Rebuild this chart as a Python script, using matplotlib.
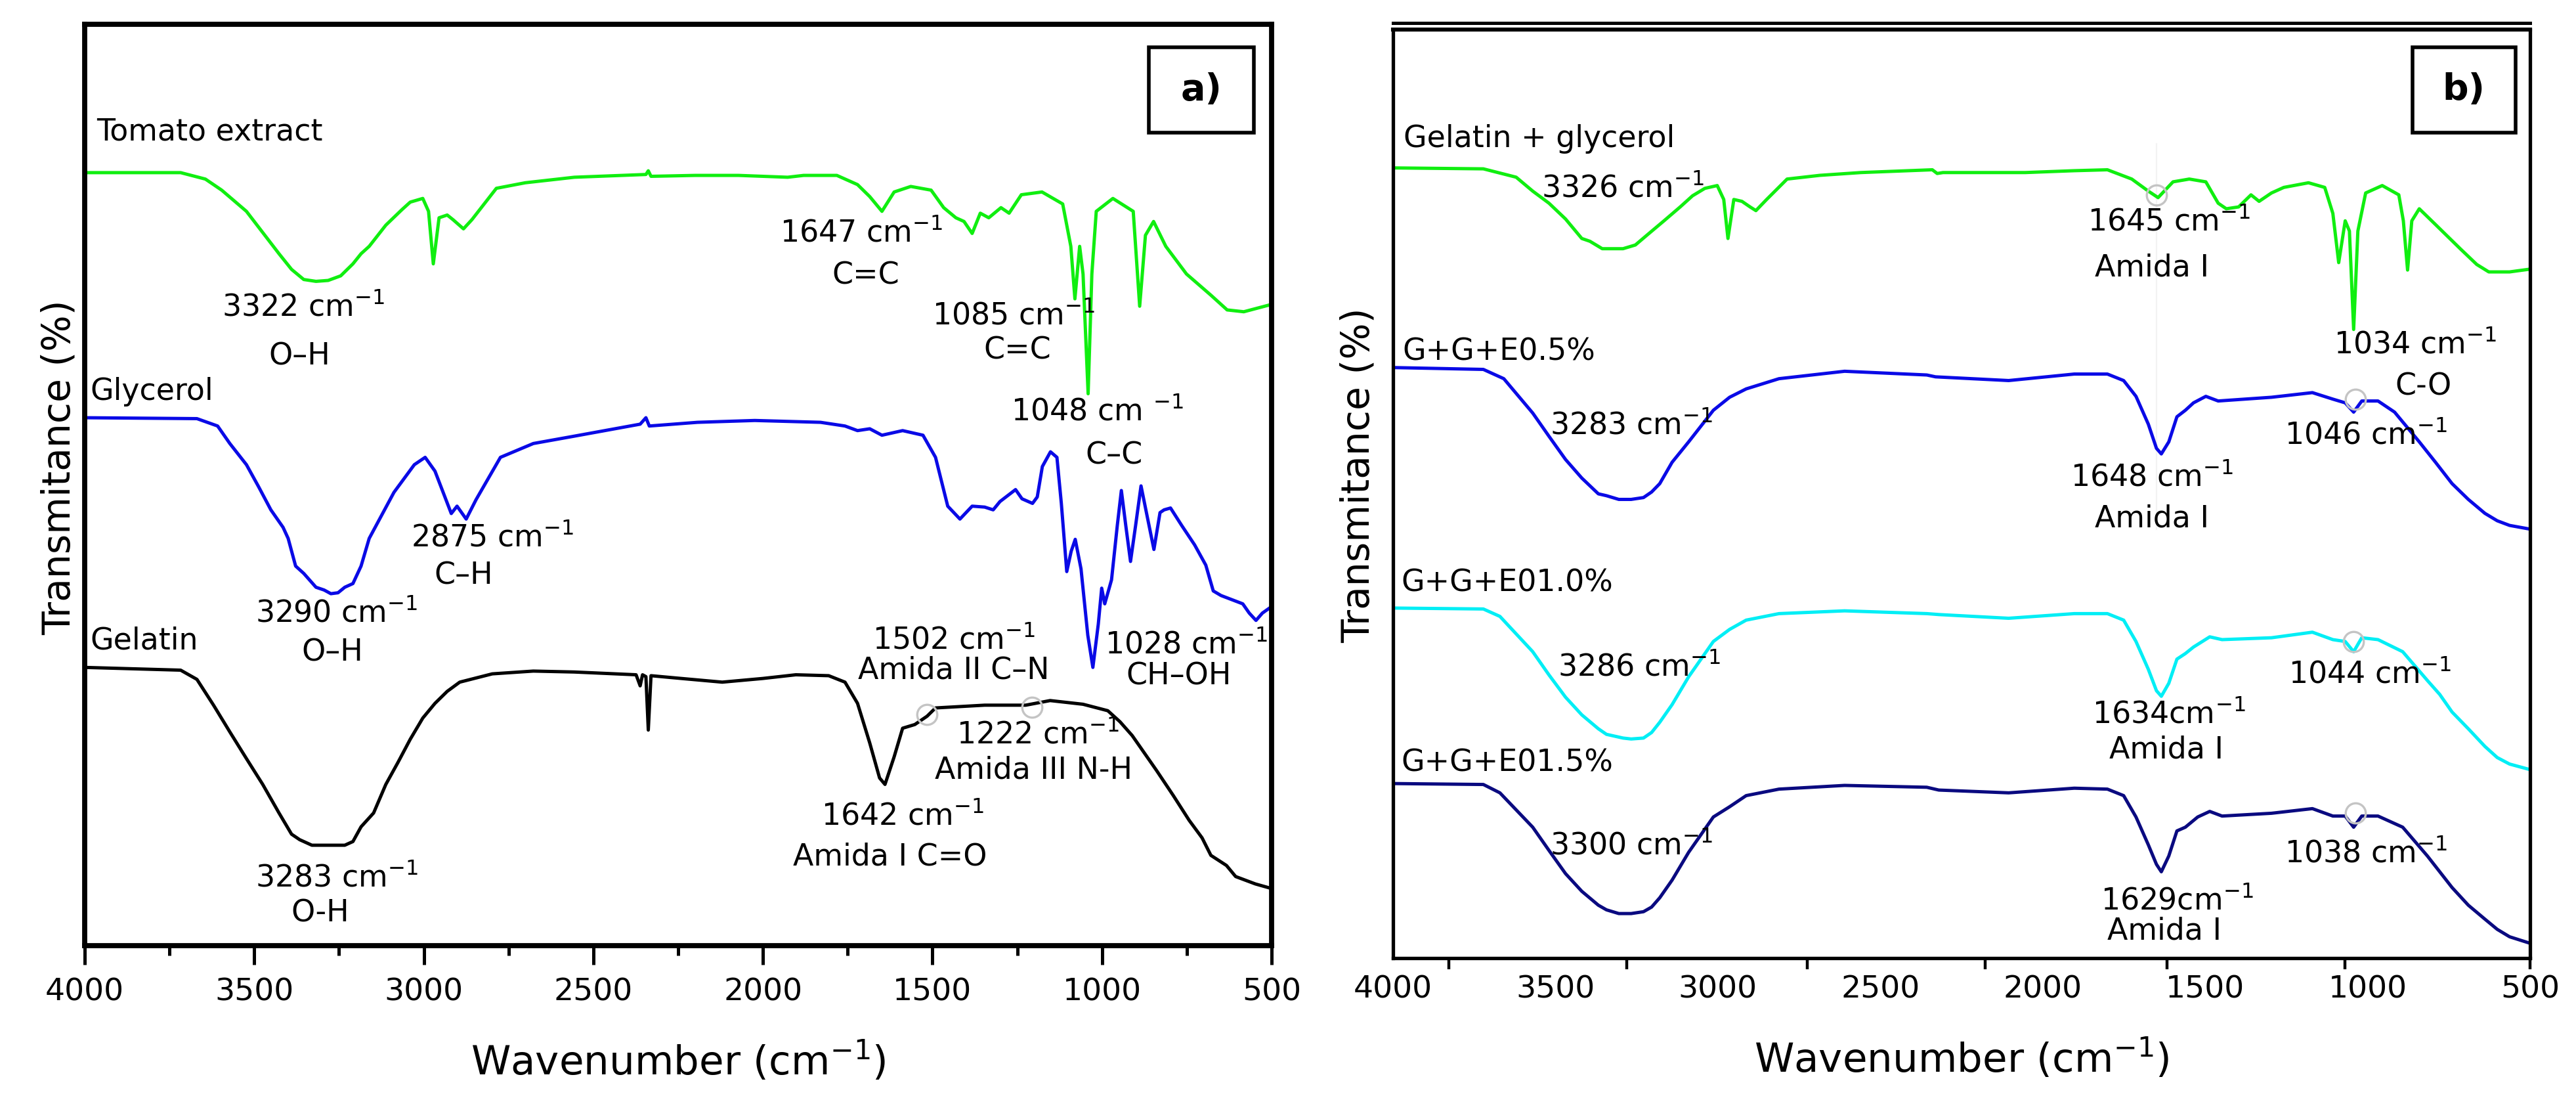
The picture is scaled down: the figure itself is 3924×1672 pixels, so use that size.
import numpy as np
import matplotlib as mpl
mpl.use('Agg')
import matplotlib.pyplot as plt
import matplotlib.ticker as ticker
from matplotlib.patches import Rectangle

plt.rcParams['font.family'] = ['DejaVu Sans']
plt.rcParams['mathtext.default'] = 'regular'

# ---------------- data (arbitrary offset scale 0-100) -------------
# panel a
wn_tomato = [4000, 3717, 3644, 3596, 3523, 3475, 3427, 3390, 3354, 3318, 3282, 3245, 3209, 3185,
             3161, 3112, 3064, 3040, 3003, 2986, 2972, 2955, 2931, 2914, 2883, 2858, 2786, 2701,
             2556, 2345, 2338, 2330, 2200, 2072, 1927, 1880, 1782, 1721, 1685, 1649, 1613, 1564,
             1504, 1467, 1431, 1407, 1383, 1359, 1334, 1298, 1274, 1238, 1177, 1116, 1092, 1080,
             1066, 1056, 1041, 1030, 1017, 968, 908, 889, 872, 848, 812, 751, 679, 631, 582, 500]
tr_tomato = [83.9, 83.9, 83.2, 82.0, 79.7, 77.4, 75.1, 73.4, 72.3, 72.1, 72.2, 72.7, 74.0, 75.1,
             75.9, 78.2, 79.9, 80.7, 81.1, 79.7, 74.0, 79.0, 79.3, 78.8, 77.8, 78.8, 82.2, 82.8,
             83.4, 83.7, 84.1, 83.5, 83.6, 83.6, 83.4, 83.6, 83.6, 82.6, 81.3, 79.7, 81.8, 82.4,
             82.0, 80.1, 79.0, 78.6, 77.3, 79.5, 79.0, 80.1, 79.5, 81.5, 81.8, 80.5, 75.9, 70.2,
             75.9, 72.9, 59.9, 72.9, 79.7, 81.1, 79.7, 69.4, 77.1, 78.6, 75.9, 72.9, 70.6, 69.0,
             68.8, 69.6]

wn_glycerol = [4000, 3669, 3608, 3572, 3523, 3487, 3451, 3415, 3400, 3378, 3354, 3318, 3294, 3274,
               3253, 3233, 3209, 3185, 3161, 3088, 3028, 2996, 2967, 2919, 2902, 2875, 2846, 2774,
               2677, 2556, 2362, 2345, 2335, 2193, 2024, 1830, 1758, 1721, 1685, 1649, 1588, 1528,
               1491, 1455, 1419, 1383, 1346, 1321, 1301, 1255, 1236, 1205, 1191, 1176, 1152, 1133,
               1120, 1104, 1091, 1079, 1062, 1042, 1027, 1011, 1001, 992, 972, 955, 943, 930, 916,
               901, 885, 868, 847, 829, 817, 798, 765, 727, 694, 672, 649, 585, 566, 546, 527, 500]
tr_glycerol = [57.3, 57.2, 56.4, 54.5, 52.2, 49.8, 47.3, 45.4, 44.2, 41.2, 40.4, 38.9, 38.6, 38.2,
               38.3, 38.9, 39.3, 41.2, 44.2, 49.2, 52.2, 53.0, 51.5, 46.9, 47.7, 46.3, 48.4, 53.0,
               54.5, 55.3, 56.6, 57.3, 56.4, 56.8, 57.0, 56.8, 56.4, 55.9, 56.1, 55.4, 55.9, 55.4,
               53.0, 47.7, 46.3, 47.7, 47.6, 47.3, 48.2, 49.5, 48.5, 48.0, 48.7, 52.0, 53.6, 53.0,
               48.0, 40.6, 42.8, 44.1, 40.9, 33.7, 30.2, 34.9, 38.8, 37.1, 39.7, 45.6, 49.4, 45.6,
               41.7, 45.6, 49.9, 46.8, 43.0, 47.0, 47.3, 47.5, 45.6, 43.5, 41.3, 38.5, 38.0, 37.1,
               36.1, 35.3, 36.1, 36.8]

wn_gelatin = [4000, 3717, 3669, 3620, 3572, 3523, 3475, 3427, 3390, 3366, 3330, 3282, 3233, 3209,
              3185, 3148, 3112, 3076, 3040, 3003, 2967, 2931, 2894, 2798, 2677, 2556, 2374, 2362,
              2355, 2345, 2338, 2330, 2241, 2120, 2000, 1903, 1806, 1758, 1721, 1685, 1656, 1640,
              1613, 1588, 1552, 1516, 1491, 1346, 1225, 1153, 1056, 983, 947, 911, 875, 839, 790,
              743, 705, 679, 633, 606, 548, 500]
tr_gelatin = [30.2, 29.9, 28.9, 26.1, 23.2, 20.3, 17.5, 14.4, 12.1, 11.5, 10.9, 10.9, 10.9, 11.3,
              12.9, 14.4, 17.5, 19.9, 22.4, 24.7, 26.3, 27.6, 28.6, 29.5, 29.8, 29.7, 29.4, 28.2,
              29.4, 29.2, 23.4, 29.3, 29.0, 28.6, 29.0, 29.4, 29.3, 28.6, 26.3, 22.0, 18.2, 17.5,
              20.5, 23.6, 24.0, 24.9, 25.8, 26.1, 26.1, 26.6, 26.2, 25.5, 24.3, 22.8, 20.9, 19.0,
              16.3, 13.6, 11.7, 9.8, 8.7, 7.5, 6.7, 6.2]

# panel b
wn_gg = [4000, 3722, 3621, 3570, 3520, 3469, 3419, 3394, 3356, 3330, 3292, 3254, 3217, 3166, 3116,
         3078, 3040, 3002, 2982, 2969, 2951, 2926, 2901, 2883, 2850, 2787, 2686, 2560, 2340, 2325,
         2307, 2054, 1903, 1801, 1726, 1675, 1645, 1599, 1549, 1498, 1460, 1435, 1397, 1359, 1334,
         1296, 1258, 1182, 1132, 1107, 1089, 1069, 1056, 1043, 1030, 1006, 955, 904, 890, 877, 864,
         841, 791, 715, 664, 627, 563, 500]
tr_gg = [85.1, 85.0, 84.1, 82.6, 81.3, 79.6, 77.5, 77.2, 76.4, 76.4, 76.4, 76.8, 77.9, 79.4, 80.9,
         82.1, 82.9, 83.2, 81.7, 77.5, 81.7, 81.5, 80.9, 80.5, 81.7, 83.9, 84.3, 84.6, 84.9, 84.5,
         84.6, 84.6, 84.8, 84.9, 83.9, 82.6, 81.9, 83.6, 83.9, 83.6, 81.3, 80.7, 80.9, 82.2, 81.5,
         82.4, 83.0, 83.5, 83.0, 80.2, 74.9, 79.4, 78.3, 67.7, 78.3, 82.4, 83.2, 82.2, 79.4, 74.1,
         79.4, 80.7, 79.0, 76.4, 74.7, 73.9, 73.9, 74.2]

wn_e05 = [4000, 3722, 3659, 3570, 3520, 3469, 3419, 3368, 3343, 3305, 3267, 3229, 3204, 3179, 3141,
          3090, 3052, 3014, 2964, 2913, 2812, 2610, 2357, 2330, 2105, 1903, 1801, 1751, 1713, 1675,
          1650, 1635, 1612, 1587, 1561, 1536, 1498, 1460, 1296, 1170, 1107, 1069, 1043, 1018, 968,
          917, 841, 791, 740, 690, 639, 601, 563, 500]
tr_e05 = [63.6, 63.4, 62.4, 58.7, 56.2, 53.7, 51.7, 50.0, 49.8, 49.4, 49.4, 49.6, 50.2, 51.1, 53.4,
          55.6, 57.3, 59.0, 60.4, 61.3, 62.4, 63.2, 62.8, 62.6, 62.2, 62.9, 62.9, 62.2, 60.5, 57.5,
          54.9, 54.3, 55.6, 58.3, 59.0, 59.8, 60.5, 60.0, 60.4, 60.9, 60.2, 59.8, 58.8, 60.0, 60.0,
          58.8, 55.6, 53.4, 51.1, 49.4, 47.9, 47.1, 46.6, 46.2]

wn_e10 = [4000, 3722, 3671, 3570, 3520, 3469, 3419, 3368, 3343, 3292, 3267, 3229, 3204, 3179, 3141,
          3090, 3052, 3014, 2964, 2913, 2812, 2610, 2357, 2320, 2105, 1903, 1801, 1751, 1713, 1675,
          1650, 1635, 1612, 1587, 1561, 1536, 1486, 1448, 1296, 1170, 1107, 1069, 1043, 1018, 968,
          892, 816, 778, 740, 690, 639, 601, 563, 500]
tr_e10 = [37.7, 37.6, 36.8, 33.0, 30.5, 28.1, 26.2, 24.7, 24.1, 23.7, 23.6, 23.7, 24.3, 25.4, 27.3,
          30.3, 32.2, 34.1, 35.4, 36.4, 37.1, 37.4, 37.1, 37.0, 36.6, 37.1, 37.1, 36.4, 34.1, 31.1,
          28.8, 28.2, 29.6, 32.2, 32.8, 33.5, 34.6, 34.3, 34.5, 35.1, 34.3, 34.1, 33.0, 34.5, 34.3,
          33.0, 29.9, 28.4, 26.5, 24.7, 22.8, 21.6, 20.9, 20.3]

wn_e15 = [4000, 3722, 3671, 3570, 3520, 3469, 3419, 3368, 3343, 3305, 3267, 3229, 3204, 3179, 3141,
          3090, 3052, 3014, 2964, 2913, 2812, 2610, 2357, 2320, 2105, 1903, 1801, 1751, 1713, 1675,
          1650, 1635, 1612, 1587, 1561, 1523, 1486, 1448, 1296, 1170, 1107, 1069, 1043, 1018, 968,
          892, 816, 778, 740, 690, 639, 601, 563, 500]
tr_e15 = [18.8, 18.7, 17.8, 14.1, 11.6, 9.1, 7.2, 5.7, 5.2, 4.8, 4.8, 5.0, 5.5, 6.5, 8.4,
          11.4, 13.3, 15.2, 16.3, 17.5, 18.2, 18.6, 18.4, 18.1, 17.8, 18.3, 18.2, 17.5, 15.2, 12.2,
          10.1, 9.3, 11.0, 13.7, 14.1, 15.2, 15.8, 15.3, 15.6, 16.1, 15.3, 15.3, 14.1, 15.3, 15.3,
          14.1, 11.0, 9.3, 7.6, 5.7, 4.2, 3.1, 2.3, 1.6]

# peak labels: (text, x, y, ha)
labels_a = [('Tomato extract', 3964, 88.3, 'left'),
            ('3322 cm$^{-1}$', 3355, 69.2, 'center'), ('O–H', 3366, 63.9, 'center'),
            ('1647 cm$^{-1}$', 1710, 77.3, 'center'), ('C=C', 1697, 72.7, 'center'),
            ('1085 cm$^{-1}$', 1261, 68.3, 'center'), ('C=C', 1249, 64.6, 'center'),
            ('1048 cm $^{-1}$', 1015, 57.9, 'center'), ('C–C', 965, 53.2, 'center'),
            ('Glycerol', 3984, 60.1, 'left'),
            ('2875 cm$^{-1}$', 2798, 44.2, 'center'), ('C–H', 2882, 40.1, 'center'),
            ('3290 cm$^{-1}$', 3257, 36.0, 'center'), ('O–H', 3270, 31.8, 'center'),
            ('Gelatin', 3983, 33.1, 'left'),
            ('1502 cm$^{-1}$', 1437, 33.1, 'center'), ('Amida II C–N', 1437, 29.9, 'center'),
            ('1028 cm$^{-1}$', 752, 32.6, 'center'), ('CH–OH', 773, 29.2, 'center'),
            ('1222 cm$^{-1}$', 1189, 22.8, 'center'), ('Amida III N-H', 1201, 19.0, 'center'),
            ('1642 cm$^{-1}$', 1588, 14.0, 'center'), ('Amida I C=O', 1625, 9.6, 'center'),
            ('3283 cm$^{-1}$', 3257, 7.3, 'center'), ('O-H', 3306, 3.5, 'center')]
labels_b = [('Gelatin + glycerol', 3968, 88.2, 'left'),
            ('3326 cm$^{-1}$', 3292, 82.8, 'center'),
            ('1645 cm$^{-1}$', 1612, 79.2, 'center'), ('Amida I', 1663, 74.3, 'center'),
            ('1034 cm$^{-1}$', 854, 66.0, 'center'), ('C-O', 829, 61.5, 'center'),
            ('G+G+E0.5%', 3970, 65.3, 'left'),
            ('3283 cm$^{-1}$', 3267, 57.3, 'center'),
            ('1648 cm$^{-1}$', 1663, 51.7, 'center'), ('Amida I', 1663, 47.3, 'center'),
            ('1046 cm$^{-1}$', 1005, 56.2, 'center'),
            ('G+G+E01.0%', 3975, 40.4, 'left'),
            ('3286 cm$^{-1}$', 3242, 31.3, 'center'),
            ('1634cm$^{-1}$', 1612, 26.2, 'center'), ('Amida I', 1620, 22.4, 'center'),
            ('1044 cm$^{-1}$', 993, 30.5, 'center'),
            ('G+G+E01.5%', 3975, 21.0, 'left'),
            ('3300 cm$^{-1}$', 3267, 12.0, 'center'),
            ('1629cm$^{-1}$', 1587, 6.1, 'center'), ('Amida I', 1625, 2.9, 'center'),
            ('1038 cm$^{-1}$', 1005, 11.2, 'center')]

# grey marker circles around weak bands
circ_a_x = [1516, 1206]
circ_a_y = [25.1, 25.9]
circ_b_x = [1650, 1038, 1043, 1038]
circ_b_y = [82.2, 60.2, 34.1, 15.6]

xticks = [4000, 3500, 3000, 2500, 2000, 1500, 1000, 500]
odd_ticks_b = [3828, 3281, 2725, 2177, 1618, 1070, 500]

# ---------------- figure ----------------
W, H = 3924, 1672
fig = plt.figure(figsize=(W / 200, H / 200), dpi=200, facecolor='w')


def box(l, t, r, b):
    return [l / W, 1 - b / H, (r - l) / W, (b - t) / H]


ax_a = fig.add_axes(box(129, 37, 1937, 1440))
ax_b = fig.add_axes(box(2122, 45, 3854, 1459))

lw = 1.8
ax_a.plot(wn_tomato, tr_tomato, color='#10ee10', lw=lw)
ax_a.plot(wn_glycerol, tr_glycerol, color='#0a0ae6', lw=lw)
ax_a.plot(wn_gelatin, tr_gelatin, color='black', lw=lw)
ax_a.plot(circ_a_x, circ_a_y, 'o', mfc='none', mec='#c4c4c4', ms=11, mew=1.2)

ax_b.plot(wn_gg, tr_gg, color='#10ee10', lw=lw)
ax_b.plot(wn_e05, tr_e05, color='#0a0ae6', lw=lw)
ax_b.plot(wn_e10, tr_e10, color='#00eef5', lw=lw)
ax_b.plot(wn_e15, tr_e15, color='#0a0a80', lw=lw)
ax_b.plot([1650, 1650], [87.7, 46.2], color='#f3f3f3', lw=0.8, zorder=0)
ax_b.plot(circ_b_x, circ_b_y, 'o', mfc='none', mec='#c4c4c4', ms=11, mew=1.2)

for ax, labels in [(ax_a, labels_a), (ax_b, labels_b)]:
    for s, x, y, ha in labels:
        ax.text(x, y, s, ha=ha, va='center', fontsize=16.5)
    ax.set_xlim(4000, 500)
    ax.set_ylim(0, 100)
    ax.set_yticks([])
    ax.set_xticks(xticks)
    ax.set_xticklabels([str(t) for t in xticks])
    ax.set_xlabel('Wavenumber (cm$^{-1}$)', fontsize=22, labelpad=18)
    ax.set_ylabel('Transmitance (%)', fontsize=21)

# axis styling panel a
for sp in ax_a.spines.values():
    sp.set_linewidth(2.8)
ax_a.xaxis.set_minor_locator(ticker.MultipleLocator(250))
ax_a.tick_params(axis='x', which='major', direction='out', length=10.5, width=1.8,
                 labelsize=17, pad=7)
ax_a.tick_params(axis='x', which='minor', direction='out', length=5.5, width=1.8)
ax_a.yaxis.set_label_coords(-0.006, 0.519)

# axis styling panel b: labels without marks, marks at shifted spots
for sp in ax_b.spines.values():
    sp.set_linewidth(1.9)
ax_b.spines['top'].set_linewidth(2.2)
ax_b.plot([0, 1], [1.007, 1.007], transform=ax_b.transAxes, color='black', lw=1.8,
          clip_on=False)
ax_b.xaxis.remove_overlapping_locs = False
ax_b.xaxis.set_minor_locator(ticker.FixedLocator(odd_ticks_b))
ax_b.tick_params(axis='x', which='major', length=0, labelsize=17, pad=9)
ax_b.tick_params(axis='x', which='minor', direction='out', length=6, width=1.6)
ax_b.yaxis.set_label_coords(-0.014, 0.52)

# panel letters in boxes
panel_boxes = [(ax_a, 'a)', (0.8966, 0.8824, 0.0884, 0.0927)),
               (ax_b, 'b)', (0.8966, 0.889, 0.0906, 0.0917))]
for ax, letter, (x0, y0, w, h) in panel_boxes:
    ax.add_patch(Rectangle((x0, y0), w, h, transform=ax.transAxes, fill=False,
                           ec='black', lw=2.0, clip_on=False))
    ax.text(x0 + w / 2, y0 + h / 2, letter, transform=ax.transAxes, ha='center',
            va='center', fontsize=20, fontweight='bold')

fig.savefig('out.png', dpi=200, facecolor='w')
